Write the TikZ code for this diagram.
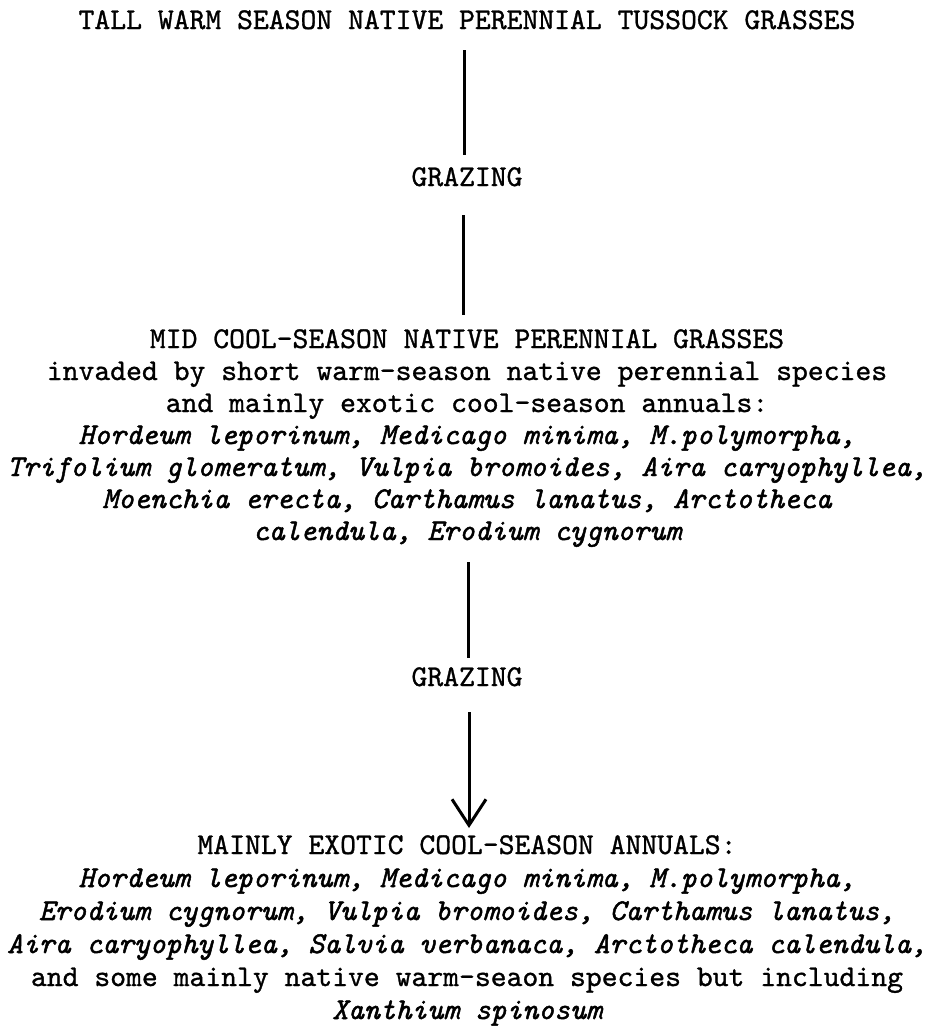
\documentclass[tikz,border=0pt]{standalone}
\usepackage{fontspec}
\newfontfamily\tw{lmmono10-regular.otf}[FakeBold=1]
\newfontfamily\twi{lmmono10-italic.otf}[FakeBold=1.6]
\newcommand\spc[1]{{\twi #1}}
\usetikzlibrary{arrows.meta}
\begin{document}
\begin{tikzpicture}[x=1pt,y=-1pt,
  lbl/.style={font=\fontsize{30.2}{#1}\selectfont\tw\frenchspacing, inner sep=0pt, outer sep=0pt, anchor=base},
  lbl/.default=32,
  conn/.style={line width=3pt, draw=black},
  arr/.style={conn, -{Straight Barb[length=26pt,width=34pt]}}]
\fill[white] (0,0) rectangle (931,1028);
\useasboundingbox (0,0) rectangle (931,1028);

\node[lbl] (title) at (467,29) {TALL WARM SEASON NATIVE PERENNIAL TUSSOCK GRASSES};
\node[lbl] (g1) at (467,186) {GRAZING};
\node[lbl=32] (mid) at (467,348) {\begin{tabular}[t]{@{}c@{}}
MID COOL-SEASON NATIVE PERENNIAL GRASSES\\
invaded by short warm-season native perennial species\\
and mainly exotic cool-season annuals:\\
\spc{Hordeum leporinum, Medicago minima, M.polymorpha,}\\
\spc{Trifolium glomeratum, Vulpia bromoides, Aira caryophyllea,}\\
\spc{Moenchia erecta, Carthamus lanatus, Arctotheca}\\
\spc{calendula, Erodium cygnorum}
\end{tabular}};
\node[lbl] (g2) at (467,686) {GRAZING};
\node[lbl=33] (bot) at (467,854) {\begin{tabular}[t]{@{}c@{}}
MAINLY EXOTIC COOL-SEASON ANNUALS:\\
\spc{Hordeum leporinum, Medicago minima, M.polymorpha,}\\
\spc{Erodium cygnorum, Vulpia bromoides, Carthamus lanatus,}\\
\spc{Aira caryophyllea, Salvia verbanaca, Arctotheca calendula,}\\
and some mainly native warm-seaon species but including\\
\spc{Xanthium spinosum}
\end{tabular}};

\draw[conn, shorten <=21pt, shorten >=12.5pt] ([xshift=-3pt]title.south) -- ([xshift=-3pt]g1.north);
\draw[conn, shorten <=29pt, shorten >=10.6pt] ([xshift=-4pt]g1.south) -- ([xshift=-4pt]mid.north);
\draw[conn, shorten <=12.4pt, shorten >=9.5pt] ([xshift=1pt]mid.south) -- ([xshift=1pt]g2.north);
\draw[arr, shorten <=26pt, shorten >=2.9pt] ([xshift=2pt]g2.south) -- ([xshift=2pt]bot.north);
\end{tikzpicture}
\end{document}
